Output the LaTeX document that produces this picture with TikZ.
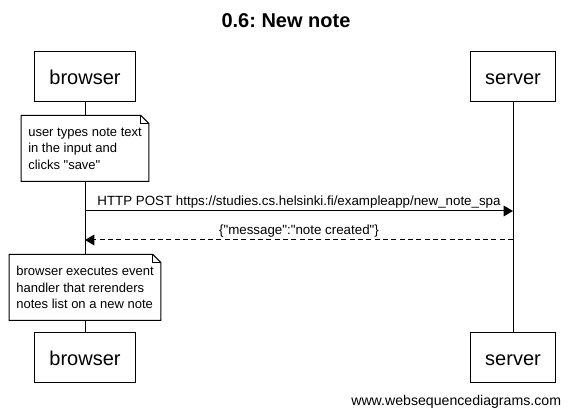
\documentclass[tikz,border=0pt]{standalone}
\usepackage{fontspec}
\newfontfamily\wsd{Liberation Sans}
\usepackage{tikz}
\usetikzlibrary{calc,arrows.meta}
\frenchspacing
\def\dogear(#1){\draw[line width=0.75pt] (#1.south west) -- (#1.north west) -- ($(#1.north east)+(-8,0)$) -- ($(#1.north east)+(0,8)$) -- (#1.south east) -- cycle;
	\draw[line width=0.75pt] ($(#1.north east)+(-8,0)$) -- ($(#1.north east)+(-8,8)$) -- ($(#1.north east)+(0,8)$);}

\begin{document}
\begin{tikzpicture}[x=0.75pt,y=-0.75pt,line width=0.75pt,
	actor/.style={draw,font=\wsd\fontsize{15}{18}\selectfont,minimum height=37.5pt,inner xsep=11pt,text height=13pt,text depth=1pt},
	note/.style={fill=white,align=left,font=\wsd\fontsize{9.75}{12.4}\selectfont,inner xsep=5pt,minimum height=48.75pt},
	msg/.style={-{Triangle[length=7pt,width=8pt]}},
	lbl/.style={font=\wsd\fontsize{10}{12}\selectfont,inner sep=2pt}]
			%%%%% START %%%%%
			\useasboundingbox (0, 0) rectangle (571, 416);
			
			\node[font=\wsd\bfseries\fontsize{15}{18}\selectfont] (title) at (286, 21) {0.6: New note};
			
			\node[actor] (browsertop) at (85, 77) {browser};
			\node[actor] (servertop) at (513, 77) {server};
			\node[actor] (browserbot) at (85, 358) {browser};
			\node[actor] (serverbot) at (513, 358) {server};
			
			\draw (browsertop) -- (browserbot);
			\draw (servertop) -- (serverbot);
			
			\node[note] (save) at (85, 148.5) {user types note text\\in the input and\\clicks "save"};
			\dogear(save)
			
			\coordinate (post1) at (85, 211);
			\coordinate (post2) at (513, 211);
			\draw[msg] (post1) -- node[lbl, above] {HTTP POST https://studies.cs.helsinki.fi/exampleapp/new\_note\_spa} (post2);
			
			\coordinate (reply1) at (513, 240);
			\coordinate (reply2) at (85, 240);
			\draw[msg, dash pattern=on 3.75pt off 2.5pt] (reply1) -- node[lbl, above] {\{"message":"note created"\}} (reply2);
			
			\node[note] (rerender) at (85, 287.5) {browser executes event\\handler that rerenders\\notes list on a new note};
			\dogear(rerender)
			
			\node[anchor=east, font=\wsd\fontsize{10.6}{13}\selectfont] (footer) at (566, 402) {www.websequencediagrams.com};
			%%%%% END %%%%%
		\end{tikzpicture}
\end{document}
